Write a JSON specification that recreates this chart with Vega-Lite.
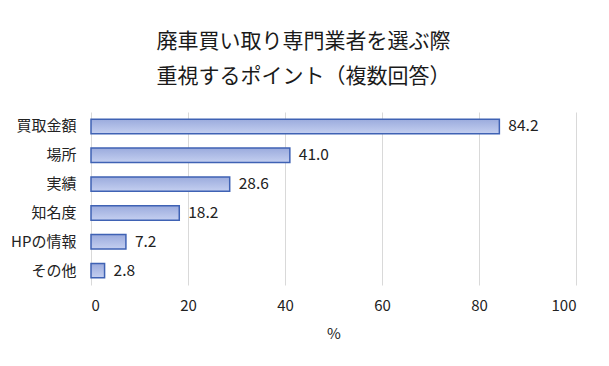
{
  "$schema": "https://vega.github.io/schema/vega-lite/v6.json",
  "width": 485,
  "height": 173,
  "autosize": {"type": "none"},
  "padding": {"left": 91, "top": 112, "right": 33, "bottom": 81},
  "background": "white",
  "config": {
    "font": "Noto Sans CJK JP",
    "view": {"stroke": null}
  },
  "title": {
    "text": ["廃車買い取り専門業者を選ぶ際", "重視するポイント（複数回答）"],
    "fontSize": 21,
    "fontWeight": "normal",
    "color": "#1a1a1a",
    "lineHeight": 35,
    "anchor": "middle",
    "dx": -30,
    "offset": 25,
    "font": "Noto Sans CJK JP"
  },
  "data": {
    "values": [
      {"item": "買取金額", "value": 84.2},
      {"item": "場所", "value": 41.0},
      {"item": "実績", "value": 28.6},
      {"item": "知名度", "value": 18.2},
      {"item": "HPの情報", "value": 7.2},
      {"item": "その他", "value": 2.8}
    ]
  },
  "encoding": {
    "y": {
      "field": "item",
      "type": "nominal",
      "sort": null,
      "scale": {"paddingInner": 0.5, "paddingOuter": 0.25},
      "axis": {
        "title": null,
        "ticks": false,
        "domain": false,
        "labelPadding": 15,
        "labelFontSize": 15,
        "labelColor": "#222222",
        "labelFont": "Noto Sans CJK JP"
      }
    },
    "x": {
      "field": "value",
      "type": "quantitative",
      "scale": {"domain": [0, 100]},
      "axis": {
        "values": [0, 20, 40, 60, 80, 100],
        "title": "%",
        "titleFontSize": 15,
        "titleFontWeight": "normal",
        "titleColor": "#222222",
        "titlePadding": 13,
        "labelFontSize": 15,
        "labelColor": "#222222",
        "labelPadding": 13,
        "ticks": false,
        "domain": false,
        "grid": true,
        "gridColor": "#d9d9d9",
        "gridWidth": 1
      }
    }
  },
  "layer": [
    {
      "mark": {
        "type": "bar",
        "stroke": "#3f62b4",
        "strokeWidth": 1.5,
        "color": {
          "gradient": "linear",
          "x1": 0, "y1": 0, "x2": 0, "y2": 1,
          "stops": [
            {"offset": 0, "color": "#9babdd"},
            {"offset": 1, "color": "#c4cff0"}
          ]
        }
      }
    },
    {
      "mark": {"type": "text", "align": "left", "dx": 9, "fontSize": 15.5, "color": "#222222"},
      "encoding": {"text": {"field": "value", "type": "quantitative", "format": ".1f"}}
    }
  ]
}
